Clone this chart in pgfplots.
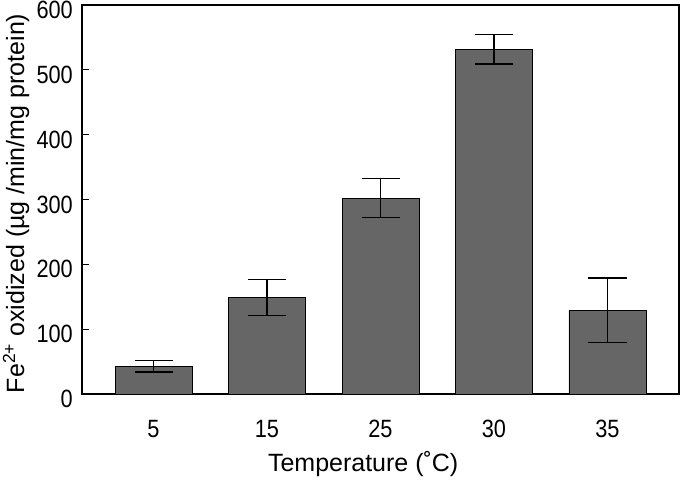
\documentclass[border=0pt]{standalone}
\usepackage{fontspec}
\setmainfont{Liberation Sans}
\newfontfamily\tickfont[FakeStretch=0.87]{Liberation Sans}
\usepackage{pgfplots}
\pgfplotsset{compat=1.18}
\definecolor{barfill}{RGB}{102,102,102}
\pgfplotstableread{
x y e
0 43 9
1 149 28
2 302 30
3 532 23
4 129 50
}\datatable
\begin{document}
\begin{tikzpicture}
\begin{axis}[
  name=ax,
  scale only axis, width=597pt, height=389pt,
  xmin=-0.63, xmax=4.63, ymin=0, ymax=600,
  ybar, bar width=77pt,
  xtick={0,1,2,3,4}, xticklabels={5,15,25,30,35},
  ytick={0,100,...,600},
  major x tick style={draw=none},
  ytick pos=left, tick align=inside, major tick length=7pt,
  tick style={black, line width=1pt},
  axis line style={line width=1.2pt},
  /pgf/number format/assume math mode=true,
  tick label style={font=\tickfont\fontsize{25}{29}\selectfont},
  yticklabel style={anchor=east, inner sep=0pt, xshift=-9pt, yshift=-5pt},
  xticklabel style={anchor=base, inner sep=0pt, yshift=-44pt},
  xlabel={Temperature (˚C)},
  ylabel={Fe\textsuperscript{2+} oxidized (µg /min/mg protein)},
  label style={font=\fontsize{25}{29}\selectfont, inner sep=0pt},
  xlabel style={at={(axis description cs:0.471,-0.2005)}, anchor=base},
  ylabel style={at={(axis description cs:-0.088,0.49)}, anchor=south},
]
\addplot[fill=barfill, draw=black, line width=0.6pt,
  error bars/.cd, y dir=both, y explicit,
  error mark=-,
  error mark options={rotate=90, mark size=19pt, line width=1.2pt, black},
  error bar style={line width=1.2pt, black}]
  table[x=x, y=y, y error=e]{\datatable};
\end{axis}
\pgfresetboundingbox
\path[use as bounding box] ([xshift=-82pt,yshift=-87pt]ax.south west) rectangle ([xshift=1pt,yshift=5pt]ax.north east);
\end{tikzpicture}
\end{document}
